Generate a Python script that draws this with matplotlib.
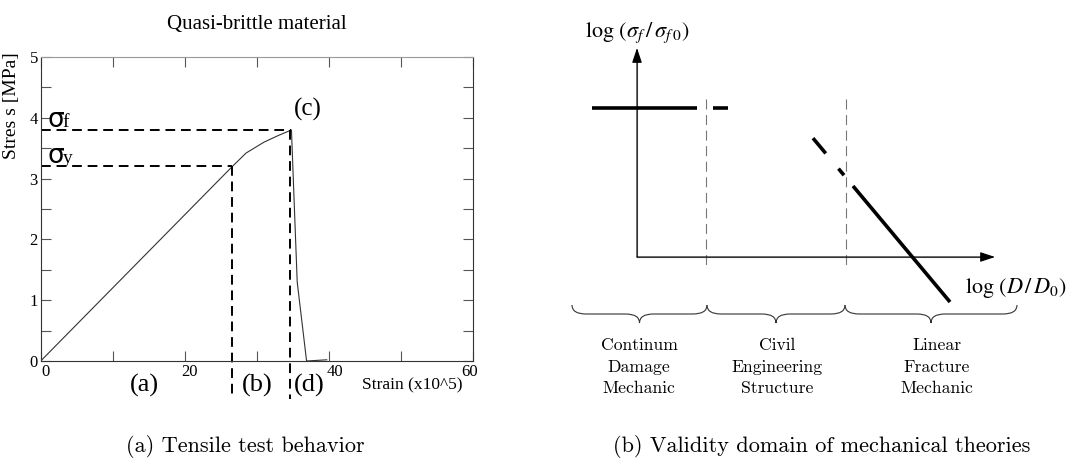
import numpy as np
import matplotlib.pyplot as plt
import matplotlib.transforms as mtransforms
from matplotlib.path import Path
from matplotlib.patches import PathPatch
from matplotlib.ticker import MultipleLocator

# left panel: tensile test curve (strain x10^5, stress MPa)
strain = [0, 26.6, 28.5, 31.0, 33.0, 34.8, 35.6, 36.9, 39.7]
stress = [0, 3.2, 3.42, 3.6, 3.71, 3.8, 1.3, 0.0, 0.02]
sigma_y = 3.2
sigma_f = 3.8
eps_y = 26.6
eps_f = 34.6
x_ticks = [0, 20, 40, 60]
y_ticks = [0, 1, 2, 3, 4, 5]
zone_labels = ["(a)", "(b)", "(d)"]
zone_x = [14.4, 30.0, 37.3]

# right panel: schematic (arbitrary log units)
plateau_x = [-4.5, 6.0]
plateau_dash_x = [7.6, 9.1]
plateau_y = 14.9
bounds = [6.9, 20.9]
lefm_dash_x = [17.6, 20.7]
lefm_x = [21.6, 31.3]
lefm_y = [7.1, -4.5]
brace_x = [-6.5, 7.0, 20.8, 38.0]
domains = ["Continum\nDamage\nMechanic", "Civil\nEngineering\nStructure", "Linear\nFracture\nMechanic"]
domain_x = [0.2, 14.0, 30.0]

plt.rcParams['mathtext.fontset'] = 'stix'
serif = 'Liberation Serif'
cm = 'cmr10'

fig = plt.figure(figsize=(10.68, 4.66), dpi=100)

# ---------------- left: tensile test ----------------
ax = fig.add_axes([0.0381, 0.2253, 0.4048, 0.6524])
ax.plot(strain, stress, color='#333333', lw=0.8)
ax.plot([0, eps_f + 0.2], [sigma_f, sigma_f], color='black', lw=1.4, ls=(0, (5, 3)))
ax.plot([0, eps_y], [sigma_y, sigma_y], color='black', lw=1.4, ls=(0, (5, 3)))
ax.plot([eps_y, eps_y], [sigma_y, -0.62], color='black', lw=1.4, ls=(0, (5, 3)), clip_on=False)
ax.plot([eps_f, eps_f], [sigma_f, -0.62], color='black', lw=1.4, ls=(0, (5, 3)), clip_on=False)
ax.set_xlim(0, 60)
ax.set_ylim(0, 5)
ax.set_xticks(x_ticks)
ax.set_yticks(y_ticks)
ax.xaxis.set_minor_locator(MultipleLocator(10))
ax.yaxis.set_minor_locator(MultipleLocator(0.5))
ax.tick_params(which='both', direction='in', top=True, right=True, length=7, width=0.8,
               color='#555555', labelsize=12, pad=2)
ax.set_xticklabels([str(v) for v in x_ticks], fontfamily=serif)
ax.set_yticklabels([str(v) for v in y_ticks], fontfamily=serif)
# tick labels sit a little to the right of their ticks in the original
for lab, dx in zip(ax.get_xticklabels(), [5, 5, 6, -3]):
    lab.set_transform(lab.get_transform() + mtransforms.ScaledTranslation(dx / 100, 0, fig.dpi_scale_trans))
for s in ['left', 'bottom', 'right']:
    ax.spines[s].set_color('#333333')
ax.spines['top'].set_color('#999999')
ax.set_ylabel("Stres s [MPa]", fontfamily=serif, fontsize=14)
ax.yaxis.set_label_coords(-0.047, 0.84)
ax.set_title("Quasi-brittle material", fontfamily=serif, fontsize=15, pad=20)
for val, sub in [(sigma_f, "f"), (sigma_y, "y")]:
    ax.text(0.9, val + 0.05, "σ", fontfamily='DejaVu Sans', fontsize=19, va='baseline')
    ax.annotate(sub, xy=(0.9, val + 0.05), xytext=(11, 0), textcoords='offset points',
                fontfamily=serif, fontsize=14, va='baseline')
ax.text(eps_f + 0.6, sigma_f + 0.15, "(c)", fontfamily=serif, fontsize=18, va='bottom')
for lab, xx in zip(zone_labels, zone_x):
    ax.text(xx, -0.4, lab, fontfamily=serif, fontsize=19, ha='center', va='center')
ax.text(44.6, -0.4, "Strain (x10^5)", fontfamily=serif, fontsize=12.5, ha='left', va='center')

fig.text(245 / 1068, 1 - 446 / 466, "(a) Tensile test behavior", fontfamily=cm,
         fontsize=16, ha='center', va='center')

# ---------------- right: validity domains ----------------
bx = fig.add_axes([560 / 1068, 0, 508 / 1068, 1])
bx.set_xlim(-7.7, 43.1)
bx.set_ylim(-20.9, 25.7)
bx.axis('off')

grey = '#777777'
bx.annotate("", xy=(0, 20.9), xytext=(0, 0),
            arrowprops=dict(arrowstyle='-|>,head_length=0.9,head_width=0.3', color='black',
                            lw=0.8, shrinkA=0, shrinkB=0))
bx.annotate("", xy=(35.8, 0), xytext=(0, 0),
            arrowprops=dict(arrowstyle='-|>,head_length=0.9,head_width=0.3', color='black',
                            lw=0.8, shrinkA=0, shrinkB=0))
bx.plot([0, 0], [0, 19.5], color=grey, lw=0.8)
bx.plot([0, 34.5], [0, 0], color=grey, lw=0.8)
for b in bounds:
    bx.plot([b, b], [15.8, -1.0], color=grey, lw=0.8, ls=(0, (9, 5)))
bx.plot(plateau_x, [plateau_y, plateau_y], color='black', lw=2.6, solid_capstyle='butt')
bx.plot(plateau_dash_x, [plateau_y, plateau_y], color='black', lw=2.6, solid_capstyle='butt')
slope = (lefm_y[1] - lefm_y[0]) / (lefm_x[1] - lefm_x[0])
dash_y = [lefm_y[0] + slope * (x - lefm_x[0]) for x in lefm_dash_x]
bx.plot(lefm_dash_x, dash_y, color='black', lw=2.6, ls=(0, (5.5, 5.5)))
bx.plot(lefm_x, lefm_y, color='black', lw=2.6, solid_capstyle='butt')

bx.text(0, 22.4, r"$\log\,(\sigma_{f}\,/\,\sigma_{f\;0})$", fontsize=16, ha='center', va='center')
bx.text(37.9, -3.1, r"$\log\,(D\,/\,D_0)$", fontsize=16, ha='center', va='center')


def brace(x0, x1, ytop=-4.8, ybase=-5.7, ytip=-6.6, r=1.4):
    xm = 0.5 * (x0 + x1)
    verts = [(x0, ytop), (x0, ybase), (x0 + r, ybase),
             (xm - r, ybase), (xm, ybase), (xm, ytip),
             (xm, ybase), (xm + r, ybase),
             (x1 - r, ybase), (x1, ybase), (x1, ytop)]
    codes = [Path.MOVETO, Path.CURVE3, Path.CURVE3,
             Path.LINETO, Path.CURVE3, Path.CURVE3,
             Path.CURVE3, Path.CURVE3,
             Path.LINETO, Path.CURVE3, Path.CURVE3]
    bx.add_patch(PathPatch(Path(verts, codes), fill=False, color='#333333', lw=0.8))


for i in range(3):
    brace(brace_x[i], brace_x[i + 1])
for lab, xx in zip(domains, domain_x):
    bx.text(xx, -11.0, lab, fontfamily=cm, fontsize=12.7, ha='center', va='center',
            linespacing=1.5)

fig.text(822 / 1068, 1 - 446 / 466, "(b) Validity domain of mechanical theories", fontfamily=cm,
         fontsize=16, ha='center', va='center')

fig.savefig("out.png", dpi=100)
